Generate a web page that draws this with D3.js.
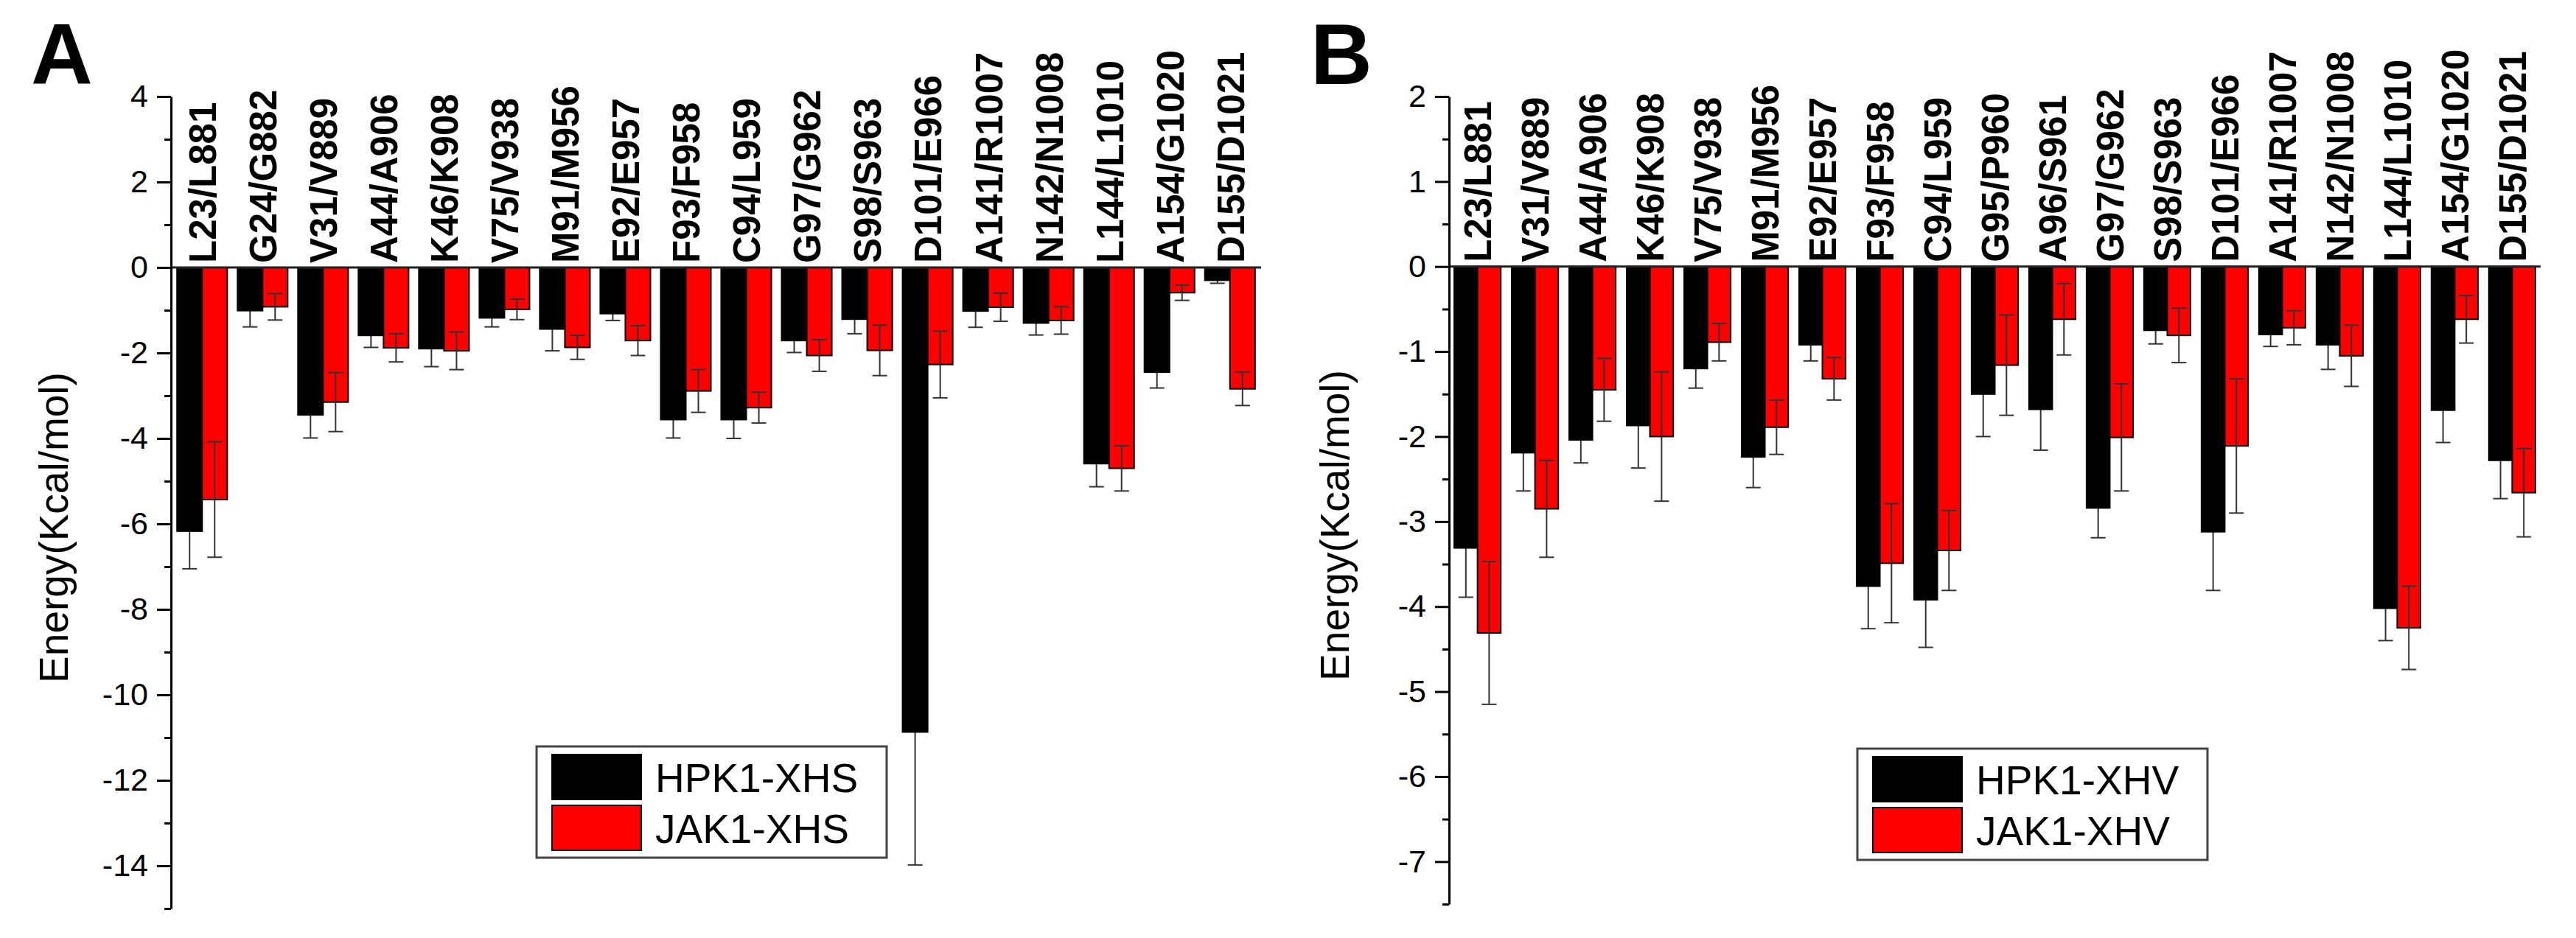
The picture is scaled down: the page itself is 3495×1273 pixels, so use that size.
<!DOCTYPE html>
<html>
<head>
<meta charset="utf-8">
<script src="https://cdn.jsdelivr.net/npm/d3@7"></script>
<style>
  body { margin: 0; background: #fff; }
  text { font-family: "Liberation Sans", Arial, sans-serif; }
</style>
</head>
<body>
<div id="d3-container"></div>
<script>
// panel A data (XHS)
const catsA = ["L23/L881", "G24/G882", "V31/V889", "A44/A906", "K46/K908", "V75/V938", "M91/M956", "E92/E957", "F93/F958",
    "C94/L959", "G97/G962", "S98/S963", "D101/E966", "A141/R1007", "N142/N1008", "L144/L1010", "A154/G1020", "D155/D1021"];
const hpkA = [-6.17, -1.01, -3.45, -1.59, -1.90, -1.18, -1.44, -1.08, -3.56, -3.56, -1.71, -1.21, -10.87, -1.02, -1.30, -4.59, -2.45, -0.30];
const hpkAErr = [0.88, 0.38, 0.54, 0.28, 0.42, 0.21, 0.51, 0.16, 0.43, 0.44, 0.28, 0.34, 3.11, 0.38, 0.28, 0.54, 0.37, 0.07];
const jakA = [-5.43, -0.92, -3.15, -1.88, -1.95, -0.98, -1.87, -1.71, -2.89, -3.28, -2.06, -1.94, -2.27, -0.93, -1.24, -4.70, -0.59, -2.84];
const jakAErr = [1.35, 0.31, 0.69, 0.33, 0.44, 0.24, 0.28, 0.35, 0.50, 0.36, 0.37, 0.59, 0.78, 0.33, 0.32, 0.53, 0.18, 0.39];
const seriesA = ["HPK1-XHS", "JAK1-XHS"];
const majorTicksA = [4, 2, 0, -2, -4, -6, -8, -10, -12, -14];
const minorTicksA = [3, 1, -1, -3, -5, -7, -9, -11, -13, -15];

// panel B data (XHV)
const catsB = ["L23/L881", "V31/V889", "A44/A906", "K46/K908", "V75/V938", "M91/M956", "E92/E957", "F93/F958", "C94/L959",
    "G95/P960", "A96/S961", "G97/G962", "S98/S963", "D101/E966", "A141/R1007", "N142/N1008", "L144/L1010", "A154/G1020", "D155/D1021"];
const hpkB = [-3.31, -2.19, -2.04, -1.87, -1.20, -2.24, -0.92, -3.76, -3.92, -1.50, -1.68, -2.84, -0.75, -3.12, -0.80, -0.92, -4.02, -1.69, -2.28];
const hpkBErr = [0.58, 0.45, 0.27, 0.50, 0.23, 0.36, 0.19, 0.50, 0.56, 0.50, 0.48, 0.35, 0.16, 0.69, 0.14, 0.29, 0.38, 0.38, 0.45];
const jakB = [-4.31, -2.85, -1.45, -2.00, -0.89, -1.89, -1.32, -3.49, -3.34, -1.16, -0.62, -2.01, -0.81, -2.11, -0.72, -1.05, -4.25, -0.62, -2.66];
const jakBErr = [0.84, 0.57, 0.37, 0.76, 0.22, 0.32, 0.25, 0.70, 0.47, 0.59, 0.42, 0.63, 0.32, 0.79, 0.20, 0.36, 0.49, 0.28, 0.52];
const seriesB = ["HPK1-XHV", "JAK1-XHV"];
const majorTicksB = [2, 1, 0, -1, -2, -3, -4, -5, -6, -7];
const minorTicksB = [1.5, 0.5, -0.5, -1.5, -2.5, -3.5, -4.5, -5.5, -6.5, -7.5];

const width = 3495;
const height = 1273;
const colors = ["#000000", "#ff0000"];

const svg = d3.select("#d3-container")
    .append("svg")
    .attr("width", width)
    .attr("height", height);

function errorBars(sel, y, xSub) {
    const eb = sel.append("g")
        .attr("transform", d => `translate(${xSub(d.s) + xSub.bandwidth() / 2},0)`)
        .attr("stroke", "#333")
        .attr("stroke-width", 2);
    eb.append("line")
        .attr("y1", d => y(d.v - d.e))
        .attr("y2", d => y(d.v + d.e));
    eb.append("line")
        .attr("x1", -10).attr("x2", 10)
        .attr("y1", d => y(d.v - d.e))
        .attr("y2", d => y(d.v - d.e));
    eb.append("line")
        .attr("x1", -10).attr("x2", 10)
        .attr("y1", d => y(d.v + d.e))
        .attr("y2", d => y(d.v + d.e));
}

function drawPanel(p) {
    const g = svg.append("g");

    const x = d3.scaleBand()
        .domain(p.cats)
        .range([p.left, p.right])
        .paddingInner(p.padIn)
        .paddingOuter(p.padOut);

    const xSub = d3.scaleBand()
        .domain([0, 1])
        .range([0, x.bandwidth()]);

    const y = d3.scaleLinear()
        .domain(p.domain)
        .range([p.bottom, p.top]);

    const rows = p.cats.map((c, i) => ({
        cat: c,
        vals: [
            { s: 0, v: p.hpk[i], e: p.hpkErr[i] },
            { s: 1, v: p.jak[i], e: p.jakErr[i] }
        ]
    }));

    const grp = g.selectAll(".grp")
        .data(rows)
        .join("g")
        .attr("class", "grp")
        .attr("transform", d => `translate(${x(d.cat)},0)`);

    // black series error bars sit behind their bars
    grp.selectAll(".errBack")
        .data(d => d.vals.filter(v => v.s === 0))
        .join("g")
        .attr("class", "errBack")
        .call(s => errorBars(s, y, xSub));

    grp.selectAll("rect")
        .data(d => d.vals)
        .join("rect")
        .attr("x", d => xSub(d.s))
        .attr("width", xSub.bandwidth())
        .attr("y", y(0))
        .attr("height", d => y(d.v) - y(0))
        .attr("fill", d => colors[d.s])
        .attr("stroke", "#000")
        .attr("stroke-width", 2);

    grp.selectAll(".errFront")
        .data(d => d.vals.filter(v => v.s === 1))
        .join("g")
        .attr("class", "errFront")
        .call(s => errorBars(s, y, xSub));

    // zero line
    g.append("line")
        .attr("x1", p.left).attr("x2", p.right)
        .attr("y1", y(0)).attr("y2", y(0))
        .attr("stroke", "#222")
        .attr("stroke-width", 3);

    // category labels above zero line
    g.selectAll(".cat")
        .data(p.cats)
        .join("text")
        .attr("class", "cat")
        .attr("transform", d => `translate(${x(d) + x.bandwidth() / 2},${y(0) - 6}) rotate(-90)`)
        .attr("dy", "0.37em")
        .attr("font-size", 51)
        .attr("font-weight", "bold")
        .attr("fill", "#000")
        .text(d => d);

    // y axis: minor then major ticks
    g.append("g")
        .attr("transform", `translate(${p.left},0)`)
        .call(d3.axisLeft(y).tickValues(p.minor).tickSize(9).tickFormat(""))
        .call(a => a.select(".domain").remove())
        .call(a => a.selectAll("line").attr("stroke-width", 3));

    g.append("g")
        .attr("transform", `translate(${p.left},0)`)
        .call(d3.axisLeft(y).tickValues(p.major).tickSize(19).tickSizeOuter(0).tickPadding(12).tickFormat(d => String(d)))
        .call(a => a.select(".domain").attr("stroke-width", 3))
        .call(a => a.selectAll("line").attr("stroke-width", 3))
        .call(a => a.selectAll("text")
            .attr("font-size", 43)
            .attr("fill", "#000")
            .attr("font-family", "'Liberation Sans', Arial, sans-serif"));

    // y axis title
    g.append("text")
        .attr("transform", `translate(${p.titleX},${(p.top + p.bottom) / 2 + 34}) rotate(-90)`)
        .attr("text-anchor", "middle")
        .attr("font-size", 55)
        .attr("fill", "#000")
        .text("Energy(Kcal/mol)");

    // panel letter
    g.append("text")
        .attr("x", p.letterX)
        .attr("y", 114)
        .attr("text-anchor", "middle")
        .attr("font-size", 116)
        .attr("font-weight", "bold")
        .attr("fill", "#000")
        .text(p.letter);

    // legend
    const lg = g.append("g")
        .attr("transform", `translate(${p.legX},${p.legY})`);
    lg.append("rect")
        .attr("width", 475)
        .attr("height", 151)
        .attr("fill", "#fff")
        .attr("stroke", "#444")
        .attr("stroke-width", 3);
    const item = lg.selectAll(".item")
        .data(p.series)
        .join("g")
        .attr("class", "item")
        .attr("transform", (d, i) => `translate(21,${11 + i * 69})`);
    item.append("rect")
        .attr("width", 121)
        .attr("height", 61)
        .attr("fill", (d, i) => colors[i])
        .attr("stroke", "#000")
        .attr("stroke-width", 2);
    item.append("text")
        .attr("x", 140)
        .attr("y", 31)
        .attr("dy", "0.36em")
        .attr("font-size", 55)
        .attr("fill", "#000")
        .text(d => d);
}

drawPanel({
    letter: "A", letterX: 84, titleX: 92,
    cats: catsA, hpk: hpkA, hpkErr: hpkAErr, jak: jakA, jakErr: jakAErr, series: seriesA,
    major: majorTicksA, minor: minorTicksA,
    domain: [-15, 4], top: 131, bottom: 1233,
    left: 232, right: 1711, padIn: 0.17, padOut: 0.1,
    legX: 728, legY: 1013
});

drawPanel({
    letter: "B", letterX: 1820, titleX: 1830,
    cats: catsB, hpk: hpkB, hpkErr: hpkBErr, jak: jakB, jakErr: jakBErr, series: seriesB,
    major: majorTicksB, minor: minorTicksB,
    domain: [-7.5, 2], top: 131, bottom: 1227,
    left: 1966, right: 3447, padIn: 0.19, padOut: 0.09,
    legX: 2520, legY: 1016
});
</script>
</body>
</html>
